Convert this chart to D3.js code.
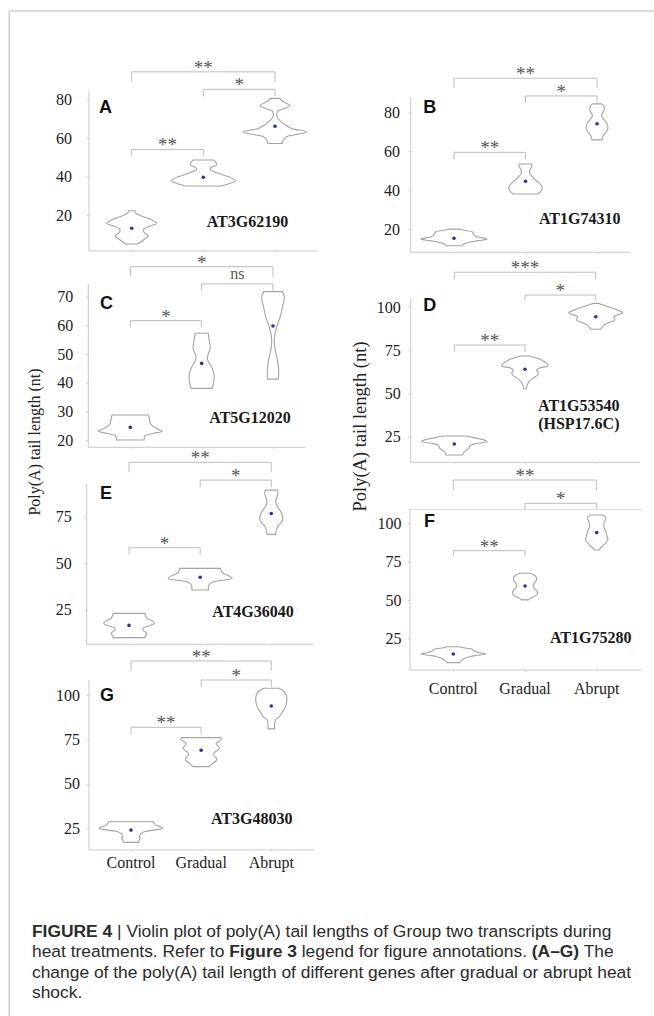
<!DOCTYPE html>
<html><head><meta charset="utf-8">
<script src="https://cdn.jsdelivr.net/npm/d3@7"></script>
<style>body{margin:0;background:#fff} svg{display:block}</style>
</head><body>
<svg id="c" width="654" height="1016"></svg>
<script>
// ---------------- DATA ----------------
const categories = ["Control", "Gradual", "Abrupt"];
const panelLetters = ["A", "B", "C", "D", "E", "F", "G"];
const geneLabels = [["AT3G62190"], ["AT1G74310"], ["AT5G12020"], ["AT1G53540", "(HSP17.6C)"], ["AT4G36040"], ["AT1G75280"], ["AT3G48030"]];

const ticksA = [20, 40, 60, 80];
const ticksB = [20, 40, 60, 80];
const ticksC = [20, 30, 40, 50, 60, 70];
const ticksD = [25, 50, 75, 100];
const ticksE = [25, 50, 75];
const ticksF = [25, 50, 75, 100];
const ticksG = [25, 50, 75, 100];

// mean (blue dot) per category
const meansA = [13.1, 39.6, 66.1];
const meansB = [15.2, 44.5, 74.1];
const meansC = [24.4, 46.7, 59.7];
const meansD = [20.8, 64.0, 94.4];
const meansE = [16.3, 42.3, 76.8];
const meansF = [14.7, 59.1, 93.9];
const meansG = [24.0, 68.9, 93.8];

// violin profiles: [tail length, relative density]
const violinA = [
  [[22.2,0.10],[21,0.12],[19.5,0.3],[17.5,0.6],[15.7,0.76],[14,0.5],[12.2,0.35],[10.5,0.4],[9.1,0.5],[7,0.35],[4.9,0.18]],
  [[48.6,0.3],[47.3,0.38],[46,0.4],[44.8,0.25],[43.7,0.2],[42.3,0.35],[40.8,0.6],[39.3,0.85],[37.7,0.98],[36.4,0.8],[35.1,0.55]],
  [[80.6,0.15],[79.5,0.2],[78,0.35],[76.8,0.45],[75.5,0.3],[74.3,0.12],[73.7,0.07],[71.1,0.06],[69,0.15],[67.6,0.25],[65,0.5],[63.3,0.97],[62,0.7],[60.7,0.35],[59,0.25],[57.2,0.22]]
];
const violinB = [
  [[19.9,0.2],[19.3,0.3],[18.6,0.55],[17,0.6],[16,0.7],[14.9,1.0],[14,0.75],[13.2,0.45],[12.3,0.3],[11.4,0.25]],
  [[53.4,0.18],[52.3,0.2],[51.2,0.16],[49.8,0.12],[48.6,0.13],[47,0.2],[45.2,0.3],[43.5,0.42],[41.7,0.5],[40.2,0.5],[39.2,0.45],[38,0.38]],
  [[84.3,0.14],[83.3,0.2],[82,0.22],[80.5,0.2],[79,0.15],[78.1,0.14],[76,0.22],[74.3,0.3],[71.8,0.33],[70,0.28],[68.3,0.2],[65.8,0.15]]
];
const violinC = [
  [[28.7,0.55],[27.5,0.58],[26,0.6],[25.2,0.65],[24,0.8],[23.1,0.97],[22.3,0.7],[21.5,0.45],[20.7,0.42],[20,0.42]],
  [[57.2,0.2],[55.5,0.22],[54,0.24],[52,0.26],[50,0.2],[48.5,0.17],[47,0.22],[45,0.32],[43,0.37],[41.5,0.38],[39.8,0.36],[38,0.32]],
  [[71.7,0.28],[70.2,0.34],[68.5,0.33],[67,0.3],[63,0.22],[59.7,0.12],[57,0.06],[54.8,0.04],[52.5,0.05],[50.7,0.08],[48.5,0.12],[46.7,0.15],[44.4,0.17],[42.5,0.17],[41.2,0.16]]
];
const violinD = [
  [[25.4,0.35],[24.6,0.55],[23.8,0.75],[22.8,0.95],[22.1,1.0],[21.2,0.7],[20.2,0.5],[19,0.45],[18.3,0.45],[17,0.35],[16.3,0.3],[14.4,0.25]],
  [[71.7,0.15],[70.5,0.35],[69.3,0.5],[67.5,0.65],[65.9,0.7],[64.8,0.45],[63.6,0.35],[62,0.4],[60.7,0.38],[59,0.25],[56.8,0.12],[54.5,0.06],[52.6,0.04]],
  [[102.1,0.08],[101,0.25],[100,0.4],[98.3,0.65],[96.7,0.82],[95.5,0.7],[94.5,0.55],[92.5,0.58],[91,0.4],[89.5,0.25],[87.1,0.15]]
];
const violinE = [
  [[22.8,0.48],[21.5,0.5],[20.1,0.55],[18.8,0.7],[17.4,0.77],[16,0.6],[14.7,0.42],[13.3,0.45],[12,0.55],[10.8,0.5],[9.7,0.48]],
  [[47.1,0.62],[46,0.64],[45,0.66],[44,0.75],[42.8,0.9],[41.7,0.97],[40.7,0.7],[39.9,0.4],[38.6,0.28],[37,0.25],[35.4,0.25]],
  [[89.4,0.18],[88,0.2],[86.2,0.18],[84,0.14],[82.2,0.14],[80,0.2],[78.6,0.26],[76,0.33],[73.7,0.35],[71.5,0.28],[70,0.2],[67.5,0.15],[65.5,0.13]]
];
const violinF = [
  [[19.5,0.2],[18.8,0.3],[17.8,0.58],[16.5,0.65],[15.5,0.8],[14.7,0.98],[13.8,0.7],[13,0.5],[12,0.35],[11.3,0.3],[10,0.22],[9.1,0.2]],
  [[67.4,0.15],[66.5,0.25],[65.2,0.33],[63,0.35],[61,0.28],[59.1,0.25],[57,0.3],[55.4,0.38],[53.2,0.35],[51.5,0.2],[50,0.1]],
  [[105.4,0.18],[104,0.27],[102.5,0.27],[100,0.22],[97.5,0.22],[95,0.27],[92.4,0.3],[89.1,0.34],[86.5,0.25],[84.5,0.15],[82.6,0.06]]
];
const violinG = [
  [[28.7,0.68],[27.8,0.7],[26.8,0.75],[25.8,0.9],[25,0.97],[24,0.7],[23.1,0.4],[22,0.3],[21.2,0.27],[20,0.25],[19.4,0.28],[18.3,0.25],[17.1,0.23]],
  [[76,0.6],[75,0.62],[73.7,0.52],[72.5,0.45],[71.3,0.5],[70,0.55],[69,0.5],[67.5,0.4],[66.2,0.38],[64.8,0.45],[63.4,0.47],[61.5,0.35],[59.7,0.25]],
  [[103.8,0.23],[102.5,0.35],[100.5,0.44],[98.5,0.47],[96.5,0.47],[94,0.44],[91.6,0.38],[89.5,0.3],[87.8,0.25],[86.5,0.15],[85,0.11],[83,0.1],[80.9,0.1]]
];

// significance brackets (level in tail-length units)
const bracketsA = [{from:"Control",to:"Abrupt",label:"**",level:94.4,tier:"outer"},{from:"Gradual",to:"Abrupt",label:"*",level:85.3,tier:"inner"},{from:"Control",to:"Gradual",label:"**",level:54.1,tier:"inner"}];
const bracketsB = [{from:"Control",to:"Abrupt",label:"**",level:97.5,tier:"outer"},{from:"Gradual",to:"Abrupt",label:"*",level:88.4,tier:"inner"},{from:"Control",to:"Gradual",label:"**",level:59.4,tier:"inner"}];
const bracketsC = [{from:"Control",to:"Abrupt",label:"*",level:80.4,tier:"outer"},{from:"Gradual",to:"Abrupt",label:"ns",level:74.4,tier:"inner"},{from:"Control",to:"Gradual",label:"*",level:61.6,tier:"inner"}];
const bracketsD = [{from:"Control",to:"Abrupt",label:"***",level:120.1,tier:"inner"},{from:"Gradual",to:"Abrupt",label:"*",level:106.9,tier:"short"},{from:"Control",to:"Gradual",label:"**",level:78.0,tier:"inner"}];
const bracketsE = [{from:"Control",to:"Abrupt",label:"**",level:104.4,tier:"outer"},{from:"Gradual",to:"Abrupt",label:"*",level:94.8,tier:"inner"},{from:"Control",to:"Gradual",label:"*",level:58.3,tier:"inner"}];
const bracketsF = [{from:"Control",to:"Abrupt",label:"**",level:128.2,tier:"outer"},{from:"Gradual",to:"Abrupt",label:"*",level:113.0,tier:"short"},{from:"Control",to:"Gradual",label:"**",level:82.1,tier:"short"}];
const bracketsG = [{from:"Control",to:"Abrupt",label:"**",level:119.1,tier:"outer"},{from:"Gradual",to:"Abrupt",label:"*",level:108.4,tier:"inner"},{from:"Control",to:"Gradual",label:"**",level:81.8,tier:"inner"}];

const yTitle = "Poly(A) tail length (nt)";
const captionLines = [
  [["FIGURE 4", true], [" | Violin plot of poly(A) tail lengths of Group two transcripts during", false]],
  [["heat treatments. Refer to ", false], ["Figure 3", true], [" legend for figure annotations. ", false], ["(A\u2013G)", true], [" The", false]],
  [["change of the poly(A) tail length of different genes after gradual or abrupt heat", false]],
  [["shock.", false]]
];

// ---------------- LAYOUT ----------------
const panels = [
  {ticks:ticksA, means:meansA, violins:violinA, brackets:bracketsA,
   left:89, right:318, top:90.7, bottom:251, ydom:[1.3,84.6], xr:[131.7,275], gap:17,
   letter:[99,113], gene:[206.7,226.7,"start"], catLabels:false},
  {ticks:ticksB, means:meansB, violins:violinB, brackets:bracketsB,
   left:410.7, right:629.3, top:97.3, bottom:252.3, ydom:[8.0,87.7], xr:[454,597], gap:10.7,
   letter:[423.3,112.7], gene:[539,224,"start"], catLabels:false},
  {ticks:ticksC, means:meansC, violins:violinC, brackets:bracketsC,
   left:88.3, right:305, top:284, bottom:447.3, ydom:[17.46,74.36], xr:[130.3,273], gap:15,
   letter:[100,309.3], gene:[209.3,422.7,"start"], catLabels:false},
  {ticks:ticksD, means:meansD, violins:violinD, brackets:bracketsD,
   left:410.7, right:640, top:298, bottom:462.3, ydom:[10.2,105.2], xr:[454.3,595.7], gap:10,
   letter:[423.3,310.5], gene:[578.8,410.7,"middle"], catLabels:false},
  {ticks:ticksE, means:meansE, violins:violinE, brackets:bracketsE,
   left:86.7, right:313.3, top:484, bottom:644.3, ydom:[6.1,92.7], xr:[129,271.3], gap:15,
   letter:[100,499.3], gene:[212.3,616.5,"start"], catLabels:false},
  {ticks:ticksF, means:meansF, violins:violinF, brackets:bracketsF,
   left:410, right:641.7, top:509.3, bottom:670, ydom:[4.3,109.1], xr:[453.3,596.7], gap:8.5,
   letter:[424,526.7], gene:[550,643.3,"start"], catLabels:true, catY:694, topLine:true},
  {ticks:ticksG, means:meansG, violins:violinG, brackets:bracketsG,
   left:89, right:314, top:680, bottom:850, ydom:[12.8,108.4], xr:[131,271.3], gap:9,
   letter:[100,700.5], gene:[211,824,"start"], catLabels:true, catY:868}
];
const legLen = {outer:10, inner:7, short:5.5};

// ---------------- DRAW ----------------
const svg = d3.select("#c");
const serif = "'Liberation Serif','Times New Roman',serif";
const sans = "'Liberation Sans',Arial,Helvetica,sans-serif";

// figure frame
svg.append("line").attr("x1",9.3).attr("x2",654).attr("y1",11).attr("y2",11).attr("stroke","#cfcfcf").attr("stroke-width",1.6);
svg.append("line").attr("x1",9.3).attr("x2",9.3).attr("y1",11).attr("y2",1016).attr("stroke","#cfcfcf").attr("stroke-width",1.6);

const wScale = d3.scaleLinear().domain([0,1]).range([0,33]);

panels.forEach((p, pi) => {
  const g = svg.append("g");
  const y = d3.scaleLinear().domain(p.ydom).range([p.bottom, p.top]);
  const x = d3.scalePoint().domain(categories).range(p.xr);

  // axes
  const yAxis = d3.axisLeft(y).tickValues(p.ticks).tickSize(2).tickPadding(p.gap - 2).tickFormat(d3.format("d"));
  const ya = g.append("g").attr("transform",`translate(${p.left},0)`).call(yAxis);
  ya.select(".domain").attr("d", `M-0,${p.top}V${p.bottom}`).attr("stroke","#c9c9c9");
  ya.selectAll(".tick line").attr("stroke","#c9c9c9");
  ya.selectAll(".tick text").attr("font-family",serif).attr("font-size",16).attr("fill","#222");

  const xa = g.append("g").attr("transform",`translate(0,${p.bottom})`)
    .call(d3.axisBottom(x).tickSize(2).tickFormat(""));
  xa.select(".domain").attr("d", `M${p.left},0H${p.right}`).attr("stroke","#c9c9c9");
  xa.selectAll(".tick line").attr("stroke","#d6d6d6");
  if (p.catLabels) {
    g.selectAll(".cat").data(categories).join("text")
      .attr("x", d => x(d)).attr("y", p.catY).attr("text-anchor","middle")
      .attr("font-family",serif).attr("font-size",16).attr("fill","#222").text(d => d);
  }
  if (p.topLine) {
    g.append("line").attr("x1",p.left).attr("x2",p.right).attr("y1",p.top).attr("y2",p.top)
      .attr("stroke","#d8d8d8").attr("stroke-width",1);
  }

  // violins
  const area = d3.area()
    .y(d => y(d[0]))
    .curve(d3.curveCatmullRom.alpha(0.5));
  p.violins.forEach((prof, ci) => {
    const cx = x(categories[ci]);
    g.append("path").datum(prof)
      .attr("d", area.x0(d => cx - wScale(d[1])).x1(d => cx + wScale(d[1]))(prof))
      .attr("fill","#fff").attr("stroke","#a3a3a3").attr("stroke-width",1.1);
  });
  // mean dots
  g.selectAll(".dot").data(p.means).join("circle")
    .attr("cx", (d,i) => x(categories[i])).attr("cy", d => y(d)).attr("r",1.8).attr("fill","#2a2fb0");

  // brackets
  p.brackets.forEach(b => {
    const x1 = x(b.from), x2 = x(b.to), yl = y(b.level), leg = legLen[b.tier];
    g.append("path").attr("d", `M${x1},${yl+leg}V${yl}H${x2}V${yl+leg}`)
      .attr("fill","none").attr("stroke","#bdbdbd").attr("stroke-width",1);
    const isNs = b.label === "ns";
    g.append("text").attr("x",(x1+x2)/2).attr("y", isNs ? yl - 5 : yl + 2)
      .attr("text-anchor","middle").attr("font-family",serif).attr("font-size", isNs ? 16 : 19)
      .attr("fill","#555").text(b.label);
  });

  // panel letter
  g.append("text").attr("x",p.letter[0]).attr("y",p.letter[1]).attr("font-family",sans)
    .attr("font-weight","bold").attr("font-size",18).attr("fill","#111").text(panelLetters[pi]);
  // gene label
  geneLabels[pi].forEach((t, li) => {
    g.append("text").attr("x",p.gene[0]).attr("y",p.gene[1] + li*18.5).attr("text-anchor",p.gene[2])
      .attr("font-family",serif).attr("font-weight","bold").attr("font-size",16).attr("fill","#1a1a1a").text(t);
  });
});

// y-axis titles
[[34, 442, 16], [360, 426.5, 18.5]].forEach(([tx, ty, fs]) => {
  svg.append("text").attr("transform",`translate(${tx},${ty}) rotate(-90)`)
    .attr("text-anchor","middle").attr("dominant-baseline","central")
    .attr("font-family",serif).attr("font-size",fs).attr("fill","#222").text(yTitle);
});

// caption
const cap = svg.append("g");
captionLines.forEach((line, li) => {
  const t = cap.append("text").attr("x",32).attr("y",937 + li*20.3)
    .attr("font-family",sans).attr("font-size",17.4).attr("fill","#2b2b2b");
  line.forEach(([s, bold]) => {
    t.append("tspan").attr("font-weight", bold ? "bold" : "normal").text(s);
  });
});
</script>
</body></html>
